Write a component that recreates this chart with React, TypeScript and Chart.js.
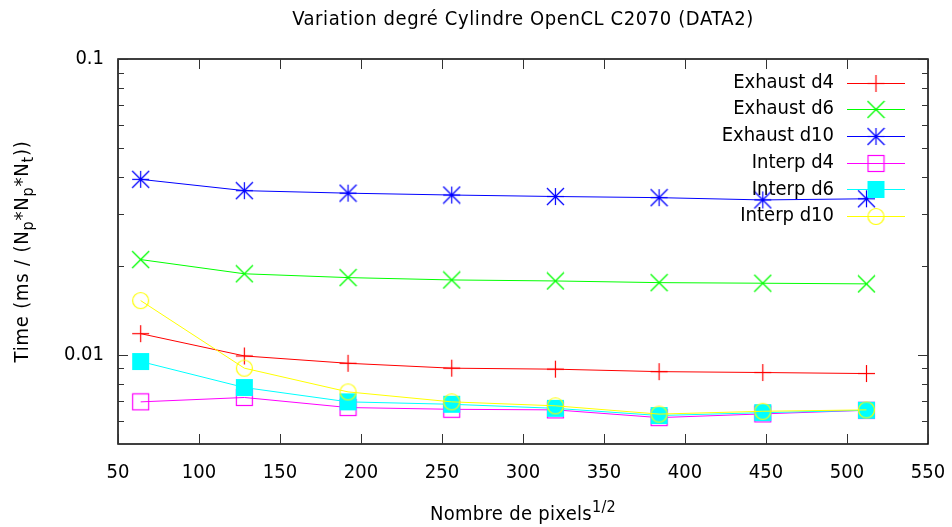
import React, { useEffect, useRef } from "react";
import { Chart, registerables } from "chart.js";

Chart.register(...registerables);

const TITLE = "Variation degré Cylindre OpenCL C2070 (DATA2)";
const pixels = [64, 128, 192, 256, 320, 384, 448, 512];

const exhaustD4 = [0.0118, 0.00992, 0.00937, 0.00902, 0.00895, 0.00878, 0.00872, 0.00865];
const exhaustD6 = [0.0210, 0.0188, 0.01825, 0.01792, 0.01778, 0.01755, 0.01747, 0.01738];
const exhaustD10 = [0.0392, 0.0359, 0.0352, 0.0347, 0.0343, 0.0340, 0.0334, 0.0337];
const interpD4 = [0.00694, 0.00718, 0.00664, 0.00655, 0.00652, 0.00614, 0.00632, 0.0065];
const interpD6 = [0.0095, 0.00776, 0.00694, 0.00681, 0.0066, 0.00624, 0.00638, 0.0065];
const interpD10 = [0.01526, 0.00902, 0.0075, 0.00694, 0.00673, 0.00631, 0.00645, 0.00652];

const seriesLabels = ["Exhaust d4", "Exhaust d6", "Exhaust d10", "Interp d4", "Interp d6", "Interp d10"];
const seriesValues = [exhaustD4, exhaustD6, exhaustD10, interpD4, interpD6, interpD10];
const seriesColors = ["#ff0000", "#00ff00", "#0000ff", "#ff00ff", "#00ffff", "#ffff00"];
const seriesMarkers = ["plus", "cross", "star", "openSquare", "filledSquare", "openCircle"];

const xTicks = [50, 100, 150, 200, 250, 300, 350, 400, 450, 500, 550];
const yMajorTicks = [0.01, 0.1];
const yMinorTicks = [0.006, 0.007, 0.008, 0.009, 0.02, 0.03, 0.04, 0.05, 0.06, 0.07, 0.08, 0.09];

const FONT = "'DejaVu Sans Condensed', 'DejaVu Sans', sans-serif";

function makeMarker(kind: string, color: string): HTMLCanvasElement {
  const S = 19;
  const c = document.createElement("canvas");
  c.width = S;
  c.height = S;
  const g = c.getContext("2d")!;
  g.strokeStyle = color;
  g.fillStyle = color;
  g.lineWidth = 1.2;
  const m = 9.5;
  const r = 8.5;
  const line = (x1: number, y1: number, x2: number, y2: number) => {
    g.beginPath();
    g.moveTo(x1, y1);
    g.lineTo(x2, y2);
    g.stroke();
  };
  if (kind === "plus" || kind === "star") {
    line(m - r, m, m + r, m);
    line(m, m - r, m, m + r);
  }
  if (kind === "cross" || kind === "star") {
    line(m - r, m - r, m + r, m + r);
    line(m + r, m - r, m - r, m + r);
  }
  if (kind === "openSquare") g.strokeRect(m - 8, m - 8, 16, 16);
  if (kind === "filledSquare") g.fillRect(m - 8.5, m - 8.5, 17, 17);
  if (kind === "openCircle") {
    g.beginPath();
    g.arc(m, m, 8, 0, Math.PI * 2);
    g.stroke();
  }
  return c;
}

function drawRich(
  ctx: CanvasRenderingContext2D,
  parts: { t: string; s?: "sub" | "sup" }[],
  cx: number,
  cy: number,
  size: number,
  spacing: number
) {
  const small = Math.round(size * 0.8);
  (ctx as any).letterSpacing = `${spacing}px`;
  let total = 0;
  for (const p of parts) {
    ctx.font = `${p.s ? small : size}px ${FONT}`;
    total += ctx.measureText(p.t).width;
  }
  let x = cx - total / 2;
  ctx.textAlign = "left";
  ctx.textBaseline = "middle";
  for (const p of parts) {
    ctx.font = `${p.s ? small : size}px ${FONT}`;
    const dy = p.s === "sub" ? size * 0.3 : p.s === "sup" ? -size * 0.38 : 0;
    ctx.fillText(p.t, x, cy + dy);
    x += ctx.measureText(p.t).width;
  }
  (ctx as any).letterSpacing = "0px";
}

export default function App() {
  const ref = useRef<HTMLCanvasElement>(null);

  useEffect(() => {
    const markers = seriesMarkers.map((k, i) => makeMarker(k, seriesColors[i]));

    const decor = {
      id: "gnuplotDecor",
      afterDraw(chart: any) {
        const ctx: CanvasRenderingContext2D = chart.ctx;
        const a = chart.chartArea;
        const xs = chart.scales.x;
        const ys = chart.scales.y;
        ctx.save();
        // border
        ctx.strokeStyle = "#000";
        ctx.lineWidth = 1.5;
        ctx.strokeRect(a.left, a.top, a.right - a.left, a.bottom - a.top);
        // ticks
        ctx.lineWidth = 1;
        ctx.strokeStyle = "#333";
        const seg = (x1: number, y1: number, x2: number, y2: number) => {
          ctx.beginPath();
          ctx.moveTo(x1, y1);
          ctx.lineTo(x2, y2);
          ctx.stroke();
        };
        for (const t of xTicks) {
          const px = Math.round(xs.getPixelForValue(t)) + 0.5;
          seg(px, a.bottom, px, a.bottom - 10);
          seg(px, a.top, px, a.top + 10);
        }
        for (const t of yMajorTicks) {
          const py = Math.round(ys.getPixelForValue(t)) + 0.5;
          seg(a.left, py, a.left + 10, py);
          seg(a.right, py, a.right - 10, py);
        }
        for (const t of yMinorTicks) {
          const py = Math.round(ys.getPixelForValue(t)) + 0.5;
          seg(a.left, py, a.left + 6, py);
          seg(a.right, py, a.right - 6, py);
        }
        ctx.fillStyle = "#000";
        // title
        drawRich(ctx, [{ t: TITLE }], 523, 19.5, 20, 0.6);
        // x axis title
        drawRich(
          ctx,
          [{ t: "Nombre de pixels" }, { t: "1/2", s: "sup" }],
          523,
          515,
          20,
          0.3
        );
        // y axis title
        ctx.save();
        ctx.translate(23, (a.top + a.bottom) / 2);
        ctx.rotate(-Math.PI / 2);
        drawRich(
          ctx,
          [
            { t: "Time (ms / (N" },
            { t: "p", s: "sub" },
            { t: "*N" },
            { t: "p", s: "sub" },
            { t: "*N" },
            { t: "t", s: "sub" },
            { t: "))" },
          ],
          0,
          0,
          20,
          0.8
        );
        ctx.restore();
        // legend
        ctx.font = `20px ${FONT}`;
        ctx.textAlign = "right";
        ctx.textBaseline = "middle";
        seriesLabels.forEach((lab, i) => {
          const y = 82.5 + i * 26.7;
          ctx.fillStyle = "#000";
          ctx.fillText(lab, 834, y);
          ctx.strokeStyle = seriesColors[i];
          ctx.lineWidth = 1;
          seg(847, Math.round(y) + 0.5, 905, Math.round(y) + 0.5);
          const mk = markers[i];
          ctx.drawImage(mk, 876 - mk.width / 2, Math.round(y) + 0.5 - mk.height / 2);
        });
        ctx.restore();
      },
    };

    const chart = new Chart(ref.current!, {
      type: "line",
      data: {
        datasets: seriesLabels.map((label, i) => ({
          label,
          data: pixels.map((x, j) => ({ x, y: seriesValues[i][j] })),
          borderColor: seriesColors[i],
          backgroundColor: seriesColors[i],
          borderWidth: 1,
          pointStyle: markers[i] as any,
          pointRadius: 9,
          pointHoverRadius: 9,
          order: 6 - i,
          tension: 0,
        })),
      },
      options: {
        animation: false,
        responsive: false,
        events: [],
        layout: { padding: { top: 59, right: 24, left: 0, bottom: 0 } },
        plugins: { legend: { display: false }, tooltip: { enabled: false }, title: { display: false } },
        scales: {
          x: {
            type: "linear",
            min: 50,
            max: 550,
            grid: { display: false, drawTicks: false },
            border: { display: false },
            afterFit: (s: any) => {
              s.height = 83;
              s.paddingLeft = 0;
              s.paddingRight = 0;
            },
            ticks: {
              stepSize: 50,
              padding: 17,
              color: "#000",
              font: { family: FONT, size: 20 },
              maxRotation: 0,
              autoSkip: false,
            },
          },
          y: {
            type: "logarithmic",
            min: 0.005,
            max: 0.1,
            grid: { display: false, drawTicks: false },
            border: { display: false },
            afterFit: (s: any) => {
              s.width = 118;
              s.paddingTop = 0;
              s.paddingBottom = 0;
            },
            ticks: {
              padding: 14,
              color: "#000",
              autoSkip: false,
              font: { family: FONT, size: 20 },
              callback: (v: any) => {
                const n = Number(v);
                if (Math.abs(n - 0.1) < 1e-9) return "0.1";
                if (Math.abs(n - 0.01) < 1e-9) return "0.01";
                return "";
              },
            },
          },
        },
      },
      plugins: [decor],
    } as any);
    return () => chart.destroy();
  }, []);

  return (
    <div style={{ position: "fixed", left: 0, top: 0, width: 952, height: 527, background: "#fff" }}>
      <canvas ref={ref} width={952} height={527} style={{ display: "block" }} />
    </div>
  );
}
